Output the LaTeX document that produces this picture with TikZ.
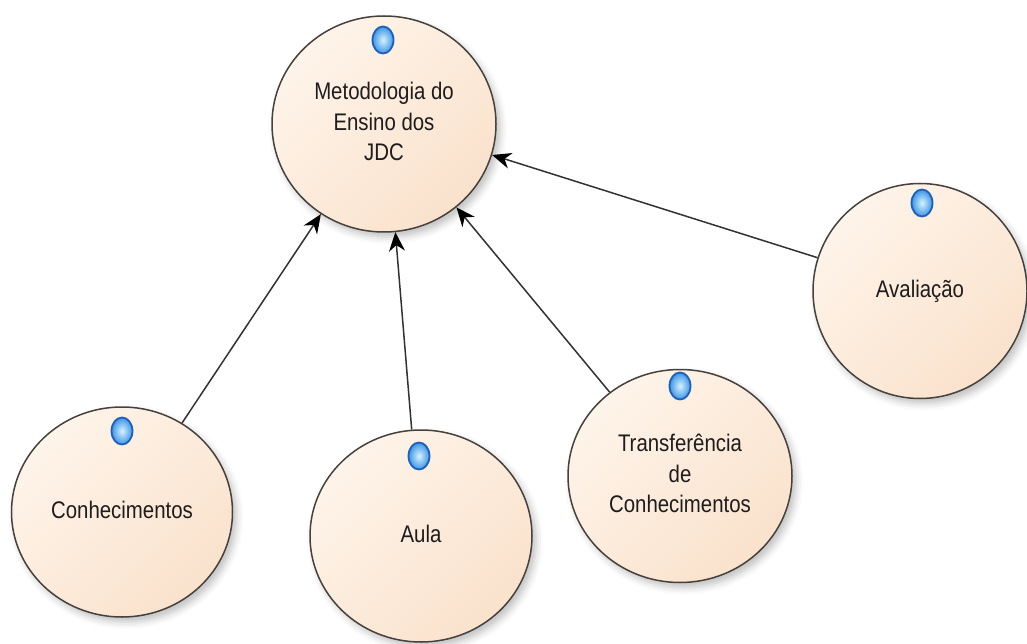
\documentclass[tikz,border=0pt]{standalone}
\usepackage{fontspec}
\setmainfont{Liberation Sans}
\usetikzlibrary{shapes.geometric,arrows.meta,shadows.blur}
\definecolor{peachA}{RGB}{254,244,234}
\definecolor{peachB}{RGB}{250,226,204}
\definecolor{rim}{RGB}{70,65,60}
\definecolor{linec}{RGB}{50,50,50}
\definecolor{txtc}{RGB}{30,28,28}
\definecolor{iconrim}{RGB}{30,95,185}
\definecolor{iconin}{RGB}{215,242,255}
\definecolor{iconout}{RGB}{60,150,230}
\newcommand{\ctext}[1]{\scalebox{1.02}[1.2]{\begin{tabular}{@{}c@{}}#1\end{tabular}}}
\tikzset{
  usecase/.style={ellipse, draw=rim, line width=1.5pt, inner sep=0pt,
    left color=peachA, right color=peachB, shading angle=45,
    blur shadow={shadow xshift=4pt, shadow yshift=-5pt, shadow blur radius=7pt, shadow opacity=25},
    text=txtc, font=\fontsize{20}{25.5}\selectfont},
  icon/.style={ellipse, draw=iconrim, line width=1.8pt, inner sep=0pt,
    minimum width=21pt, minimum height=27pt, inner color=iconin, outer color=iconout},
  link/.style={draw=linec, line width=1.5pt, -{Stealth[length=19pt,width=16pt,inset=6pt,color=black]}}
}
\begin{document}
\begin{tikzpicture}[x=1pt,y=-1pt]
\useasboundingbox (0,0) rectangle (1027,644);
\node[usecase, minimum width=224pt, minimum height=216pt] (meto) at (384,124) {\ctext{Metodologia do\\Ensino dos\\JDC}};
\node[usecase, minimum width=221pt, minimum height=210pt] (conh) at (122,512) {\raisebox{-3pt}{\ctext{Conhecimentos}}};
\node[usecase, minimum width=222pt, minimum height=212pt] (aula) at (421,536) {\raisebox{-3pt}{\ctext{Aula}}};
\node[usecase, minimum width=224pt, minimum height=213pt] (trans) at (680,476) {\ctext{Transferência\\de\\Conhecimentos}};
\node[usecase, minimum width=214pt, minimum height=215pt] (aval) at (920,291) {\raisebox{-2pt}{\ctext{Avaliação}}};
\node[icon] (imeto) at (383,40) {};
\node[icon] (iconh) at (122,431) {};
\node[icon] (iaula) at (419,456) {};
\node[icon] (itrans) at (680,386) {};
\node[icon] (iaval) at (922,203) {};
\draw[link] (conh.56) -- (meto.235);
\draw[link] (aula.95) -- (meto.276);
\draw[link] (trans.130) -- (meto.311);
\draw[link] (aval.162) -- (meto.344);
\end{tikzpicture}
\end{document}
